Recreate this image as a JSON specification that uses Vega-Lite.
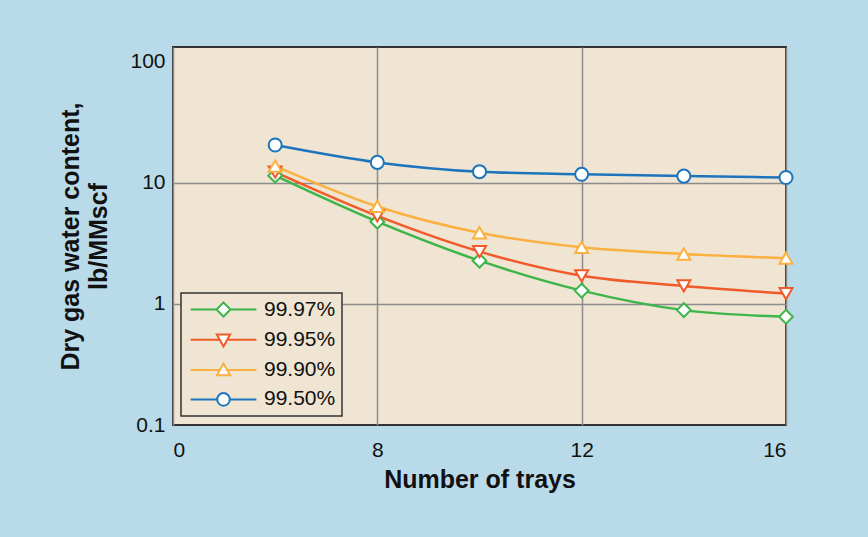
{
  "$schema": "https://vega.github.io/schema/vega-lite/v6.json",
  "width": 613,
  "height": 378,
  "autosize": "none",
  "padding": {"left": 173, "top": 47, "right": 82, "bottom": 112},
  "background": "#b9dbe9",
  "config": {
    "font": "Liberation Sans",
    "view": {"fill": "#efe5d2", "stroke": "#333333", "strokeWidth": 2},
    "axis": {
      "domain": false,
      "ticks": false,
      "labelFontSize": 21,
      "labelColor": "#111111",
      "titleFontSize": 25,
      "titleFontWeight": "bold",
      "titleColor": "#111111",
      "gridColor": "#8c8c8c",
      "gridWidth": 1.5
    },
    "legend": {"strokeWidth": 1.5}
  },
  "data": {
    "values": [
      {"series": "99.50%", "trays": 6, "water": 20.6},
      {"series": "99.50%", "trays": 8, "water": 14.8},
      {"series": "99.50%", "trays": 10, "water": 12.4},
      {"series": "99.50%", "trays": 12, "water": 11.8},
      {"series": "99.50%", "trays": 14, "water": 11.4},
      {"series": "99.50%", "trays": 16, "water": 11.1},
      {"series": "99.90%", "trays": 6, "water": 13.8},
      {"series": "99.90%", "trays": 8, "water": 6.4},
      {"series": "99.90%", "trays": 10, "water": 3.88},
      {"series": "99.90%", "trays": 12, "water": 2.94},
      {"series": "99.90%", "trays": 14, "water": 2.59},
      {"series": "99.90%", "trays": 16, "water": 2.39},
      {"series": "99.95%", "trays": 6, "water": 12.3},
      {"series": "99.95%", "trays": 8, "water": 5.34},
      {"series": "99.95%", "trays": 10, "water": 2.71},
      {"series": "99.95%", "trays": 12, "water": 1.71},
      {"series": "99.95%", "trays": 14, "water": 1.41},
      {"series": "99.95%", "trays": 16, "water": 1.22},
      {"series": "99.97%", "trays": 6, "water": 11.5},
      {"series": "99.97%", "trays": 8, "water": 4.79},
      {"series": "99.97%", "trays": 10, "water": 2.28},
      {"series": "99.97%", "trays": 12, "water": 1.29},
      {"series": "99.97%", "trays": 14, "water": 0.89},
      {"series": "99.97%", "trays": 16, "water": 0.785}
    ]
  },
  "encoding": {
    "x": {
      "field": "trays",
      "type": "quantitative",
      "scale": {"domain": [4, 16], "nice": false, "zero": false},
      "axis": {
        "values": [4, 8, 12, 16],
        "labelExpr": "datum.value == 4 ? '0' : datum.label",
        "title": "Number of trays",
        "labelPadding": 14,
        "titlePadding": 7,
        "grid": true
      }
    },
    "y": {
      "field": "water",
      "type": "quantitative",
      "scale": {"type": "log", "domain": [0.1, 133], "nice": false},
      "axis": {
        "values": [0.1, 1, 10, 100],
        "format": "~g",
        "title": ["Dry gas water content,", "lb/MMscf"],
        "titleLineHeight": 28,
        "labelPadding": 8,
        "titlePadding": 18,
        "grid": true,
        "gridOpacity": {"condition": {"test": "datum.value == 1 || datum.value == 10", "value": 1}, "value": 0}
      }
    },
    "stroke": {
      "field": "series",
      "type": "nominal",
      "scale": {
        "domain": ["99.97%", "99.95%", "99.90%", "99.50%"],
        "range": ["#3db54a", "#f15a29", "#fbb040", "#1c75bc"]
      },
      "legend": {
        "orient": "none",
        "legendX": 8,
        "legendY": 246,
        "title": null,
        "padding": 6,
        "strokeColor": "#333333",
        "fillColor": "#efe5d2",
        "symbolSize": 196,
        "symbolStrokeWidth": 2,
        "symbolOffset": 26,
        "labelOffset": 30,
        "labelFontSize": 21,
        "labelColor": "#111111",
        "rowPadding": 7.3,
        "labelLimit": 200,
        "encode": {
          "symbols": {
            "update": {
              "shape": {"signal": "datum.value == '99.97%' ? 'M-4.7,0L-1,0M1,0L4.7,0M0,-1L1,0L0,1L-1,0Z' : datum.value == '99.95%' ? 'M-4.7,0L-0.55,0M0.55,0L4.7,0M0,0.95L0.95,-0.75L-0.95,-0.75Z' : datum.value == '99.90%' ? 'M-4.7,0L-0.55,0M0.55,0L4.7,0M0,-0.95L0.95,0.75L-0.95,0.75Z' : 'M-4.7,0L-0.9,0M0.9,0L4.7,0M-0.9,0A0.9,0.9,0,1,1,0.9,0A0.9,0.9,0,1,1,-0.9,0Z'"},
              "fill": {"value": "white"},
              "strokeWidth": {"value": 2},
              "opacity": {"value": 1}
            }
          }
        }
      }
    }
  },
  "layer": [
    {
      "mark": {"type": "line", "interpolate": "monotone", "strokeWidth": 2.5}
    },
    {
      "transform": [{"filter": "datum.series == '99.97%'"}],
      "mark": {"type": "point", "shape": "diamond", "filled": true, "fill": "white", "strokeWidth": 2, "size": 190, "opacity": 1}
    },
    {
      "transform": [{"filter": "datum.series == '99.95%'"}],
      "mark": {"type": "point", "shape": "triangle-down", "filled": true, "fill": "white", "strokeWidth": 2, "size": 170, "opacity": 1}
    },
    {
      "transform": [{"filter": "datum.series == '99.90%'"}],
      "mark": {"type": "point", "shape": "triangle-up", "filled": true, "fill": "white", "strokeWidth": 2, "size": 170, "opacity": 1}
    },
    {
      "transform": [{"filter": "datum.series == '99.50%'"}],
      "mark": {"type": "point", "shape": "circle", "filled": true, "fill": "white", "strokeWidth": 2, "size": 170, "opacity": 1}
    }
  ]
}
